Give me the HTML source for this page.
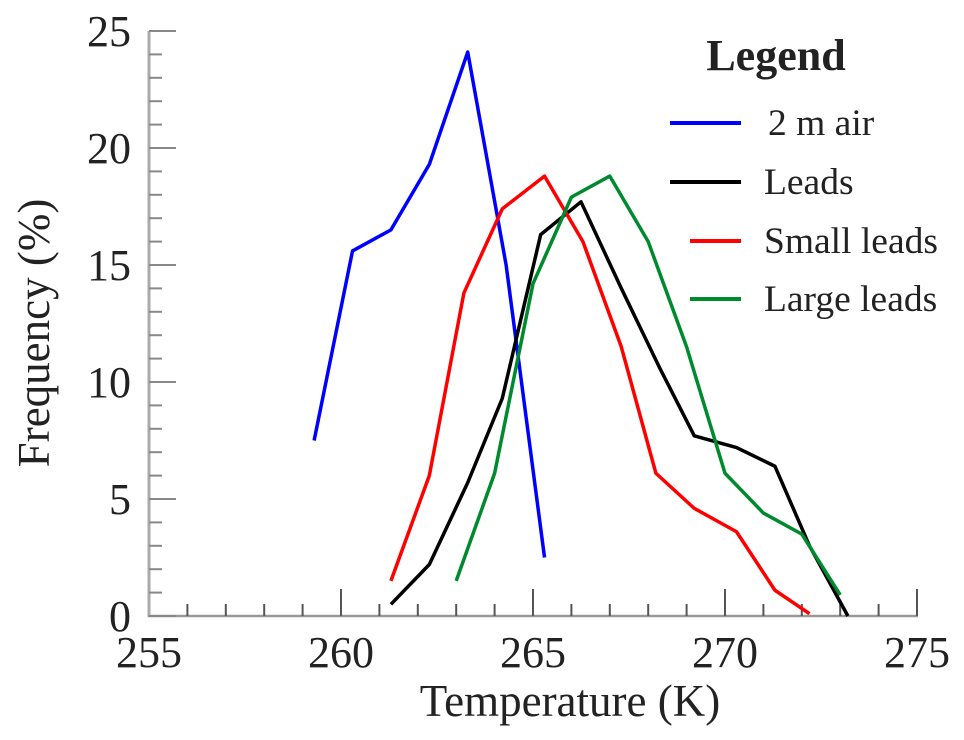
<!DOCTYPE html><html><head><meta charset="utf-8"><style>body{margin:0;background:#fff}svg{display:block}text{font-family:"Liberation Serif",serif;fill:#222}</style></head><body>
<svg id="c" width="964" height="740"></svg>
<script>
const xTicks=[255,260,265,270,275];
const yTicks=[0,5,10,15,20,25];
const blueX=[259.3,260.3,261.3,262.3,263.3,264.3,265.3];
const blueY=[7.5,15.6,16.5,19.3,24.1,15,2.5];
const redX=[261.3,262.3,263.2,264.2,265.3,266.3,267.3,268.2,269.2,270.3,271.3,272.2];
const redY=[1.5,6,13.8,17.4,18.8,16,11.5,6.1,4.6,3.6,1.1,0.1];
const blackX=[261.3,262.3,263.3,264.2,265.2,266.25,267.3,268.3,269.2,270.3,271.3,272.2,273.2];
const blackY=[0.5,2.2,5.7,9.3,16.3,17.7,14,10.6,7.7,7.2,6.4,3,0];
const greenX=[263,264,265,266,267,268,269,270,271,272,273];
const greenY=[1.5,6.1,14.2,17.9,18.8,16,11.5,6.1,4.4,3.5,0.9];
const NS="http://www.w3.org/2000/svg",svg=document.getElementById('c');
const X=v=>149+(v-255)*38.4, Y=v=>616-v*23.4;
function mk(t,a,p){const e=document.createElementNS(NS,t);for(const k in a)e.setAttribute(k,a[k]);(p||svg).appendChild(e);return e;}
const ax=mk('g',{});


mk('line',{x1:149,y1:Y(25),x2:149,y2:617,stroke:'#aaa','stroke-width':3},ax);
mk('line',{x1:148,y1:616,x2:918,y2:616,stroke:'#999','stroke-width':2.5},ax);
for(let v=0;v<=25;v++){const maj=v%5==0;mk('line',{x1:149,y1:Y(v),x2:149+(maj?27:13),y2:Y(v),stroke:'#888','stroke-width':2},ax);}
for(let v=256;v<=275;v++){const maj=v%5==0;mk('line',{x1:X(v),y1:616,x2:X(v),y2:616-(maj?27:12),stroke:'#555','stroke-width':2},ax);}
yTicks.forEach(v=>{const t=mk('text',{x:131,y:Y(v)+15,'text-anchor':'end','font-size':44},ax);t.textContent=v;

});
xTicks.forEach(v=>{const t=mk('text',{x:X(v),y:667,'text-anchor':'middle','font-size':44},ax);t.textContent=v;

});
const xt=mk('text',{x:570,y:716,'text-anchor':'middle','font-size':45});xt.textContent='Temperature (K)';


const yt=mk('text',{x:0,y:0,'text-anchor':'middle','font-size':45,transform:'translate(49,333) rotate(-90)'});yt.textContent='Frequency (%)';


const series=[['2 m air',blueX,blueY,'#0000ff'],['Leads',blackX,blackY,'#000'],['Small leads',redX,redY,'#ff0000'],['Large leads',greenX,greenY,'#008a2e']];
series.forEach((s,i)=>{const p=mk('polyline',{points:s[1].map((x,j)=>X(x)+','+Y(s[2][j])).join(' '),fill:'none',stroke:s[3],'stroke-width':3.5,'stroke-linejoin':'round'});

});
const lt=mk('text',{x:776,y:70,'text-anchor':'middle','font-size':44,'font-weight':'bold'});lt.textContent='Legend';


const ly=[123,182,241,299],lx=[[670,741,768],[670,741,764],[690,741,764],[690,741,764]];
series.forEach((s,i)=>{const g=mk('g',{});


mk('line',{x1:lx[i][0],y1:ly[i],x2:lx[i][1],y2:ly[i],stroke:s[3],'stroke-width':4},g);
const t=mk('text',{x:lx[i][2],y:ly[i]+12,'font-size':37.5},g);t.textContent=s[0];});
</script></body></html>
